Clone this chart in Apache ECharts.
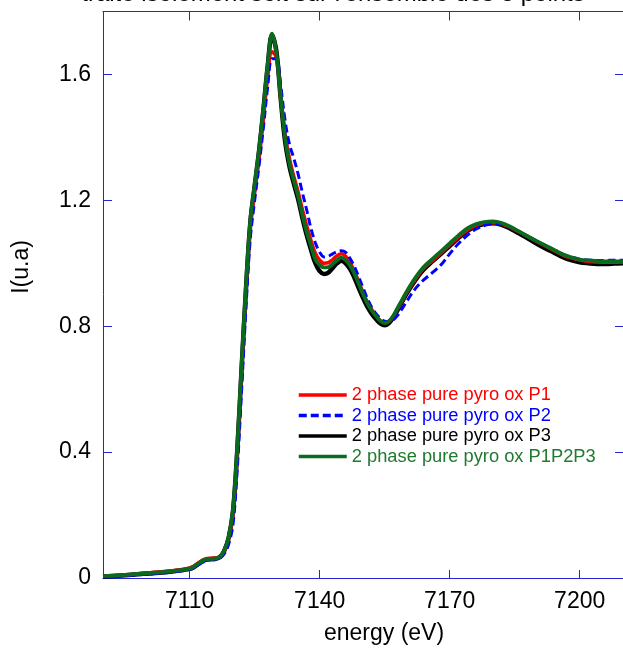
<!DOCTYPE html>
<html>
<head>
<meta charset="utf-8">
<script src="https://cdn.jsdelivr.net/npm/echarts@6/dist/echarts.min.js"></script>
<style>html,body{margin:0;padding:0;background:#fff}#c{width:623px;height:650px}</style>
</head>
<body>
<div id="c"></div>
<script>
const titleText = "traité isolément soit sur l'ensemble des 3 points";
const xName = "energy (eV)";
const yName = "I(u.a)";
const xTicks = [7110, 7140, 7170, 7200];
const yTicks = [0, 0.4, 0.8, 1.2, 1.6];
const seriesNames = ["2 phase pure pyro ox P1", "2 phase pure pyro ox P2", "2 phase pure pyro ox P3", "2 phase pure pyro ox P1P2P3"];

const energy = [7090,7094,7098,7102,7106,7110,
7111,7112,7113,7114,7115,7116,7117,7118,7119,7120,
7121,7122,7123,7124,7125,7126,7127,7128,7129,7130,
7131,7132,7133,7134,7135,7136,7137,7138,7139,7140,
7141,7142,7143,7144,7145,7146,7147,7148,7149,7150,
7151,7152,7153,7154,7155,7156,7157,7158,7159,7160,
7162,7164,7166,7168,7170,7172,7174,7176,7178,7180,
7182,7184,7186,7188,7190,7192,7194,7196,7198,7200,
7202,7204,7206,7208,7210];

const p1 = [0.006,0.009,0.013,0.018,0.023,0.032,
0.038,0.048,0.057,0.062,0.063,0.064,0.068,0.085,0.124,0.205,
0.40,0.66,0.91,1.115,1.225,1.33,1.455,1.59,1.672,1.655,
1.53,1.415,1.335,1.278,1.228,1.172,1.12,1.072,1.032,1.01,
1.0,1.002,1.012,1.024,1.03,1.022,1.003,0.975,0.942,0.908,
0.877,0.853,0.834,0.818,0.811,0.816,0.832,0.856,0.88,0.905,
0.948,0.984,1.008,1.033,1.058,1.083,1.105,1.12,1.127,1.129,
1.125,1.114,1.1,1.085,1.07,1.056,1.041,1.027,1.017,1.01,
1.006,1.004,1.003,1.003,1.004];

const p2 = [0.004,0.007,0.010,0.014,0.019,0.027,
0.032,0.041,0.05,0.056,0.058,0.059,0.063,0.077,0.108,0.17,
0.35,0.6,0.86,1.08,1.2,1.31,1.43,1.56,1.65,1.65,
1.565,1.455,1.38,1.335,1.285,1.225,1.17,1.11,1.065,1.035,
1.02,1.022,1.03,1.037,1.04,1.035,1.016,0.99,0.957,0.922,
0.888,0.86,0.84,0.825,0.816,0.814,0.82,0.835,0.855,0.877,
0.918,0.947,0.97,0.995,1.03,1.062,1.088,1.108,1.12,1.126,
1.124,1.114,1.1,1.086,1.071,1.057,1.043,1.03,1.02,1.013,
1.01,1.009,1.009,1.01,1.01];

const p3 = [0.005,0.008,0.012,0.016,0.021,0.029,
0.035,0.045,0.054,0.059,0.060,0.061,0.067,0.087,0.128,0.212,
0.41,0.67,0.92,1.13,1.245,1.355,1.485,1.625,1.725,1.675,
1.525,1.39,1.31,1.255,1.205,1.145,1.09,1.043,1.0,0.975,
0.966,0.97,0.985,1.0,1.008,1.0,0.982,0.955,0.922,0.89,
0.862,0.840,0.823,0.809,0.803,0.81,0.828,0.852,0.877,0.902,
0.945,0.98,1.006,1.03,1.055,1.08,1.102,1.117,1.125,1.127,
1.122,1.11,1.095,1.079,1.063,1.048,1.034,1.02,1.01,1.003,
1.0,0.998,0.998,0.999,1.0];

const p123 = [0.006,0.009,0.013,0.017,0.022,0.030,
0.036,0.046,0.055,0.060,0.061,0.062,0.068,0.088,0.130,0.216,
0.42,0.68,0.93,1.137,1.25,1.36,1.49,1.63,1.73,1.67,
1.53,1.40,1.32,1.265,1.215,1.155,1.10,1.056,1.012,0.995,
0.987,0.988,0.998,1.01,1.018,1.01,0.993,0.967,0.935,0.902,
0.873,0.850,0.832,0.817,0.810,0.816,0.833,0.858,0.883,0.908,
0.952,0.988,1.013,1.038,1.063,1.088,1.11,1.124,1.131,1.133,
1.128,1.116,1.101,1.086,1.071,1.057,1.043,1.029,1.019,1.012,
1.009,1.007,1.006,1.006,1.007];

const colors = ['#ff0000', '#0000ff', '#000000', '#0a6b1f'];
const textColors = ['#ff0000', '#0000ff', '#000000', '#1e7a2e'];
const widths = [3.5, 3, 4.5, 3.8];
const types = ['solid', [8, 4], 'solid', 'solid'];
const values = [p1, p2, p3, p123];
const zs = [3, 4, 2, 5];

const axisBlue = '#2424d8';
const font = 'Arial, "Liberation Sans", sans-serif';

const chart = echarts.init(document.getElementById('c'), null, {renderer: 'canvas'});

const series = values.map((vals, i) => ({
  name: seriesNames[i],
  type: 'line',
  xAxisIndex: 0,
  yAxisIndex: 0,
  data: energy.map((e, k) => [e, vals[k]]),
  symbol: 'none',
  showSymbol: false,
  smooth: 0.35,
  z: zs[i],
  lineStyle: {color: colors[i], width: widths[i], type: types[i]},
  itemStyle: {color: colors[i]},
  animation: false
}));

chart.setOption({
  animation: false,
  backgroundColor: '#fff',
  textStyle: {fontFamily: font},
  grid: {left: 103, top: 11.5, width: 524.5, height: 566.5, containLabel: false},
  xAxis: [{
    type: 'value', position: 'bottom', min: 7090, max: 7210,
    axisLine: {show: true, lineStyle: {color: axisBlue, width: 1}},
    axisTick: {show: true, inside: true, length: 8, customValues: xTicks, lineStyle: {color: axisBlue, width: 1}},
    axisLabel: {show: true, customValues: xTicks, margin: 12, color: '#000', fontSize: 23, fontFamily: font,
      formatter: v => String(v)},
    splitLine: {show: false}
  }, {
    type: 'value', position: 'top', min: 7090, max: 7210,
    axisLine: {show: true, onZero: false, lineStyle: {color: axisBlue, width: 1}},
    axisTick: {show: true, inside: true, length: 9, customValues: xTicks, lineStyle: {color: axisBlue, width: 1}},
    axisLabel: {show: false},
    splitLine: {show: false}
  }],
  yAxis: [{
    type: 'value', position: 'left', min: 0, max: 1.8,
    axisLine: {show: true, onZero: false, lineStyle: {color: axisBlue, width: 1}},
    axisTick: {show: true, inside: true, length: 9, customValues: yTicks, lineStyle: {color: axisBlue, width: 1}},
    axisLabel: {show: true, customValues: yTicks, margin: 12, color: '#000', fontSize: 23, fontFamily: font,
      formatter: v => (v === 0 ? '0' : v.toFixed(1))},
    splitLine: {show: false}
  }, {
    type: 'value', position: 'right', min: 0, max: 1.8,
    axisLine: {show: true, onZero: false, lineStyle: {color: axisBlue, width: 1}},
    axisTick: {show: true, inside: true, length: 8, customValues: yTicks, lineStyle: {color: axisBlue, width: 1}},
    axisLabel: {show: false},
    splitLine: {show: false}
  }],
  legend: {
    orient: 'vertical',
    left: 297, top: 385,
    itemWidth: 48, itemHeight: 12, itemGap: 0.5,
    padding: 0,
    selectedMode: false,
    itemStyle: {opacity: 0},
    lineStyle: {width: 3.5},
    data: seriesNames.map((n, i) => ({name: n, textStyle: {color: textColors[i]}})),
    textStyle: {fontSize: 18.3, fontFamily: font, lineHeight: 20, padding: [0, 0, 0, 0]}
  },
  graphic: [
    {type: 'text', x: 333, y: -6, silent: true,
      style: {text: titleText, fill: '#000', font: '24px ' + font, textAlign: 'center', textVerticalAlign: 'middle'}},
    {type: 'text', x: 384, y: 634, silent: true,
      style: {text: xName, fill: '#000', font: '23px ' + font, textAlign: 'center', textVerticalAlign: 'middle'}},
    {type: 'text', x: 22, y: 267, rotation: Math.PI / 2, silent: true,
      style: {text: yName, fill: '#000', font: '23px ' + font, textAlign: 'center', textVerticalAlign: 'middle'}}
  ],
  series: series
});
</script>
</body>
</html>
